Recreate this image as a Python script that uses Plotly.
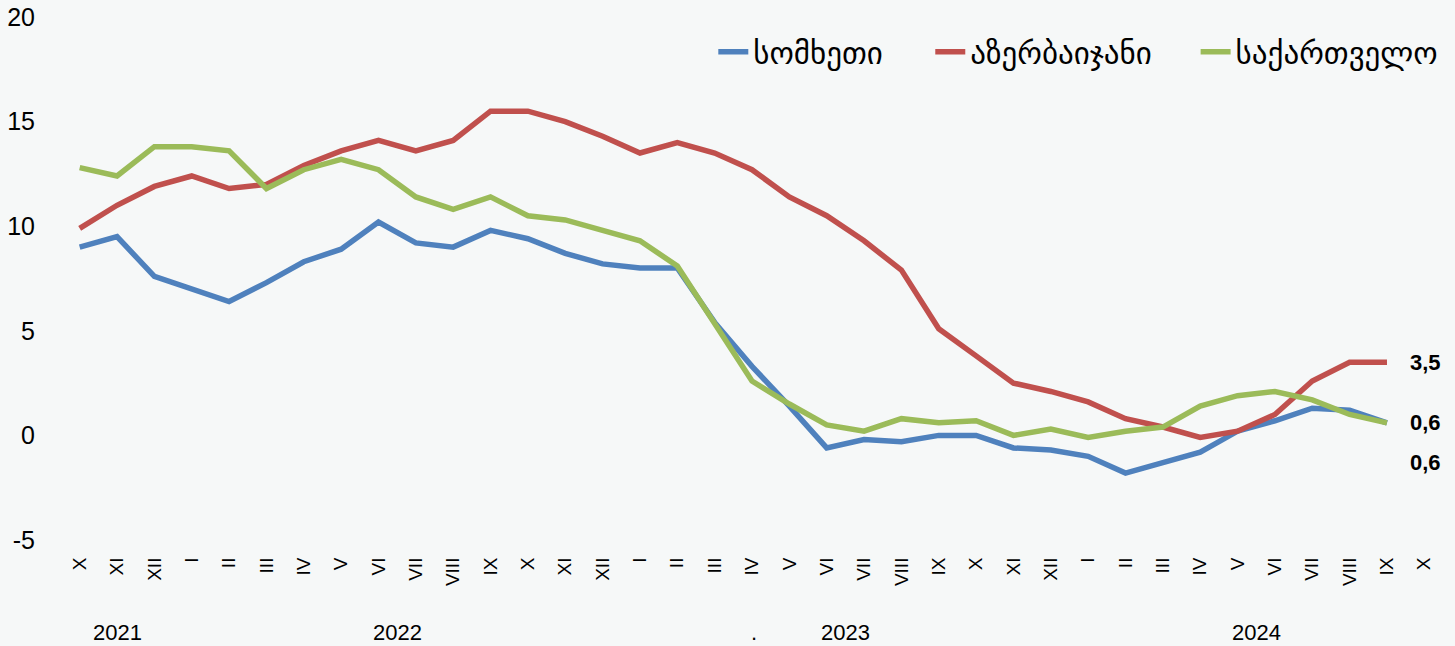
import plotly.graph_objects as go

months = ["X", "XI", "XII", "I", "II", "III", "IV", "V", "VI", "VII", "VIII", "IX",
          "X", "XI", "XII", "I", "II", "III", "IV", "V", "VI", "VII", "VIII", "IX",
          "X", "XI", "XII", "I", "II", "III", "IV", "V", "VI", "VII", "VIII", "IX", "X"]

armenia = [9.0, 9.5, 7.6, 7.0, 6.4, 7.3, 8.3, 8.9, 10.2, 9.2, 9.0, 9.8,
           9.4, 8.7, 8.2, 8.0, 8.0, 5.4, 3.3, 1.4, -0.6, -0.2, -0.3, 0.0,
           0.0, -0.6, -0.7, -1.0, -1.8, -1.3, -0.8, 0.2, 0.7, 1.3, 1.2, 0.6]

azerbaijan = [9.9, 11.0, 11.9, 12.4, 11.8, 12.0, 12.9, 13.6, 14.1, 13.6, 14.1, 15.5,
              15.5, 15.0, 14.3, 13.5, 14.0, 13.5, 12.7, 11.4, 10.5, 9.3, 7.9, 5.1,
              3.8, 2.5, 2.1, 1.6, 0.8, 0.4, -0.1, 0.2, 1.0, 2.6, 3.5, 3.5]

georgia = [12.8, 12.4, 13.8, 13.8, 13.6, 11.8, 12.7, 13.2, 12.7, 11.4, 10.8, 11.4,
           10.5, 10.3, 9.8, 9.3, 8.1, 5.3, 2.6, 1.5, 0.5, 0.2, 0.8, 0.6,
           0.7, 0.0, 0.3, -0.1, 0.2, 0.4, 1.4, 1.9, 2.1, 1.7, 1.0, 0.6]

series_names = ["სომხეთი", "აზერბაიჯანი", "საქართველო"]
y_ticks = [-5, 0, 5, 10, 15, 20]
y_tick_labels = ["-5", "0", "5", "10", "15", "20"]
years = ["2021", "2022", "2023", "2024"]
year_positions = [1, 8.5, 20.5, 31.5]

BG = "#F6F8F8"
colors = ["#4F81BD", "#C0504D", "#9BBB59"]
SANS = "Liberation Sans, Arial, sans-serif"
legend_ids = ["legend", "legend2", "legend3"]
legend_x = [0.472, 0.629, 0.821]

fig = go.Figure()
for name, vals, col, lg in zip(series_names, [armenia, azerbaijan, georgia], colors, legend_ids):
    fig.add_trace(go.Scatter(
        x=list(range(len(vals))), y=vals, mode="lines", name=name,
        line=dict(color=col, width=5.5), legend=lg,
    ))

def fmt(v):
    return f"{v:.1f}".replace(".", ",")

# end-of-line value labels
last = len(armenia) - 1
label_specs = [(azerbaijan[-1], 0), (georgia[-1], 0), (armenia[-1], -40)]
for val, ys in label_specs:
    fig.add_annotation(x=last + 1, y=val, xref="x", yref="y", text=f"<b>{fmt(val)}</b>",
                       showarrow=False, yshift=ys, xshift=1,
                       font=dict(family=SANS, size=22, color="black"))

for yr, pos in zip(years, year_positions):
    fig.add_annotation(x=pos, y=-0.176, xref="x", yref="paper", text=yr, showarrow=False,
                       yanchor="middle", font=dict(family=SANS, size=22, color="black"))
fig.add_annotation(x=18.05, y=-0.176, xref="x", yref="paper", text=".", showarrow=False,
                   yanchor="middle", font=dict(family=SANS, size=22, color="black"))

legend_font = dict(family="DejaVu Sans, Noto Sans, sans-serif", size=31, color="black")
legends = {}
for lg, lx in zip(legend_ids, legend_x):
    legends[lg] = dict(orientation="h", x=lx, xanchor="left", y=0.933, yanchor="middle",
                       bgcolor="rgba(0,0,0,0)", font=legend_font, itemwidth=30)

fig.update_layout(
    width=1455, height=646,
    paper_bgcolor=BG, plot_bgcolor=BG,
    margin=dict(l=61, r=12, t=17, b=106, autoexpand=False),
    showlegend=True,
    **legends,
    xaxis=dict(
        range=[-0.5, len(months) - 0.5], automargin=False,
        tickmode="array", tickvals=list(range(len(months))), ticktext=months,
        tickangle=-90, showgrid=False, zeroline=False, showline=False,
        ticks="outside", ticklen=9, tickcolor=BG,
        tickfont=dict(family=SANS, size=19, color="black"),
    ),
    yaxis=dict(
        range=[-5, 20], automargin=False,
        tickmode="array", tickvals=y_ticks, ticktext=y_tick_labels,
        showgrid=False, zeroline=False, showline=False,
        ticks="outside", ticklen=20, tickcolor=BG,
        tickfont=dict(family=SANS, size=25, color="black"),
    ),
)

fig.write_html(
    "out.html",
    config={"displayModeBar": False},
    post_script="document.body.style.margin='0';document.body.style.background='" + BG + "';",
)
